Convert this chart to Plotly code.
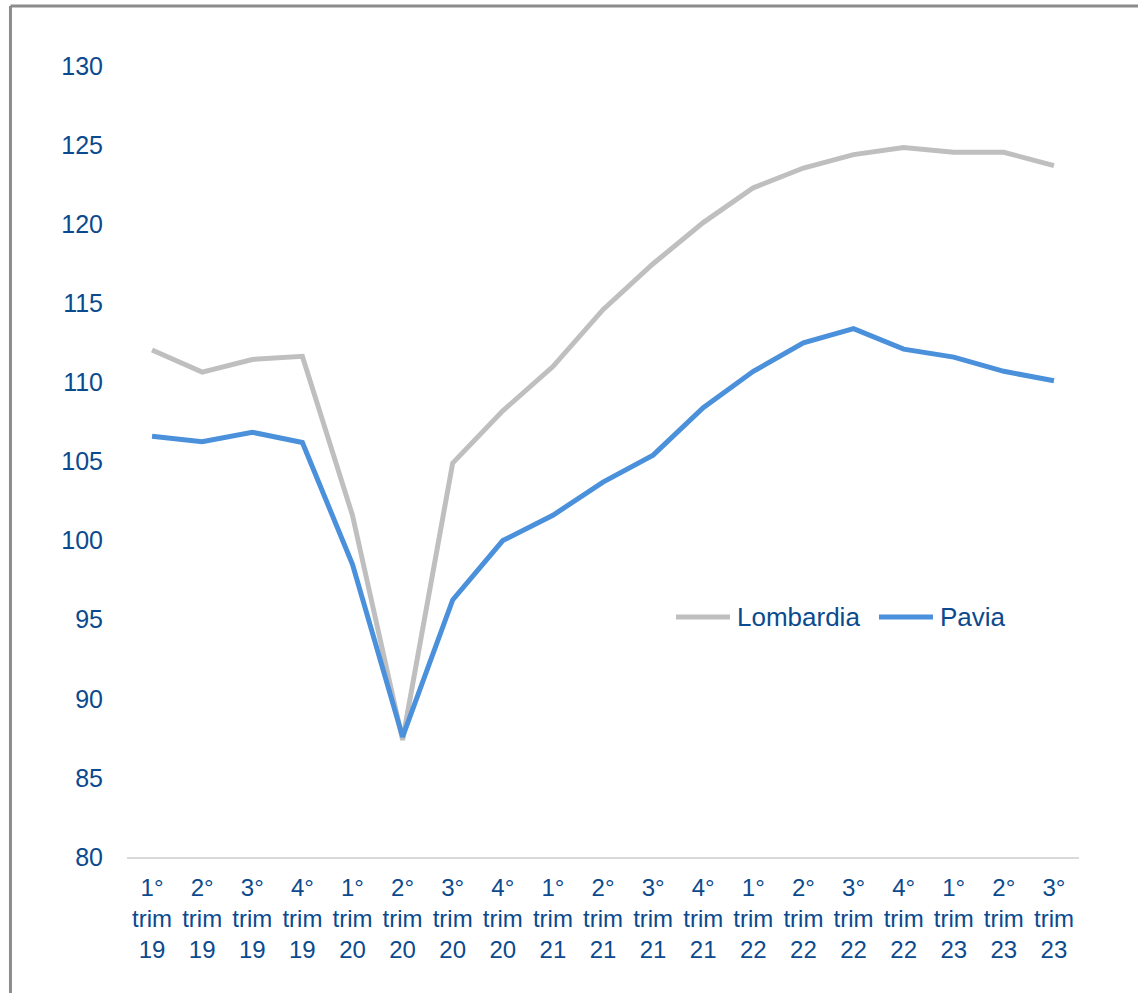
import plotly.graph_objects as go

categories = [
    "1°<br>trim<br>19", "2°<br>trim<br>19", "3°<br>trim<br>19", "4°<br>trim<br>19",
    "1°<br>trim<br>20", "2°<br>trim<br>20", "3°<br>trim<br>20", "4°<br>trim<br>20",
    "1°<br>trim<br>21", "2°<br>trim<br>21", "3°<br>trim<br>21", "4°<br>trim<br>21",
    "1°<br>trim<br>22", "2°<br>trim<br>22", "3°<br>trim<br>22", "4°<br>trim<br>22",
    "1°<br>trim<br>23", "2°<br>trim<br>23", "3°<br>trim<br>23",
]
lombardia = [112.05, 110.65, 111.45, 111.65, 101.6, 87.4, 104.9, 108.2, 111.0,
             114.6, 117.5, 120.1, 122.3, 123.55, 124.4, 124.85, 124.55, 124.55, 123.7]
pavia = [106.6, 106.25, 106.85, 106.2, 98.5, 87.6, 96.25, 100.0, 101.6,
         103.7, 105.4, 108.4, 110.7, 112.5, 113.4, 112.1, 111.6, 110.7, 110.1]
y_ticks = [80, 85, 90, 95, 100, 105, 110, 115, 120, 125, 130]

series_names = ["Lombardia", "Pavia"]
series_colors = ["#BFBFBF", "#4A90DB"]

TEXT = "#0B4A8E"
FONT = "Liberation Sans, Arial, sans-serif"

fig = go.Figure()
for name, vals, col in zip(series_names, [lombardia, pavia], series_colors):
    fig.add_trace(go.Scatter(x=categories, y=vals, name=name, mode="lines",
                             line=dict(color=col, width=5), showlegend=False))

# custom legend (long line keys like the original)
legend_y = 0.3034
legend_pos = [(0.5767, 0.6334, 0.6387), (0.7899, 0.8466, 0.8519)]
shapes = []
annotations = []
for name, col, (lx0, lx1, tx) in zip(series_names, series_colors, legend_pos):
    shapes.append(dict(type="line", xref="paper", yref="paper", x0=lx0, x1=lx1,
                       y0=legend_y, y1=legend_y, line=dict(color=col, width=5)))
    annotations.append(dict(xref="paper", yref="paper", x=tx, y=legend_y, text=name,
                            showarrow=False, xanchor="left", yanchor="middle",
                            font=dict(size=26, color=TEXT, family=FONT)))

# outer border (left and top visible)
shapes.append(dict(type="line", xref="paper", yref="paper", x0=-0.1224, x1=-0.1224,
                   y0=1.0758, y1=-0.3, line=dict(color="#8C8C8C", width=3)))
shapes.append(dict(type="line", xref="paper", yref="paper", x0=-0.1224, x1=1.2,
                   y0=1.0758, y1=1.0758, line=dict(color="#8C8C8C", width=3)))

fig.update_layout(
    width=1138, height=993,
    margin=dict(l=127, r=59, t=66, b=136),
    paper_bgcolor="white", plot_bgcolor="white",
    font=dict(family=FONT, size=25, color=TEXT),
    showlegend=False,
    xaxis=dict(type="category", range=[-0.5, 18.5], showgrid=False, zeroline=False,
               showline=True, linecolor="#D9D9D9", linewidth=2,
               ticks="", tickfont=dict(size=24, color=TEXT), ticklabelstandoff=8),
    yaxis=dict(range=[80, 130], tickvals=y_ticks, showgrid=False, zeroline=False,
               showline=False, ticks="", tickfont=dict(size=25, color=TEXT),
               ticklabelstandoff=23),
    shapes=shapes,
    annotations=annotations,
)

fig.write_html("out.html", config={"displayModeBar": False},
               post_script="document.body.style.margin='0';")
